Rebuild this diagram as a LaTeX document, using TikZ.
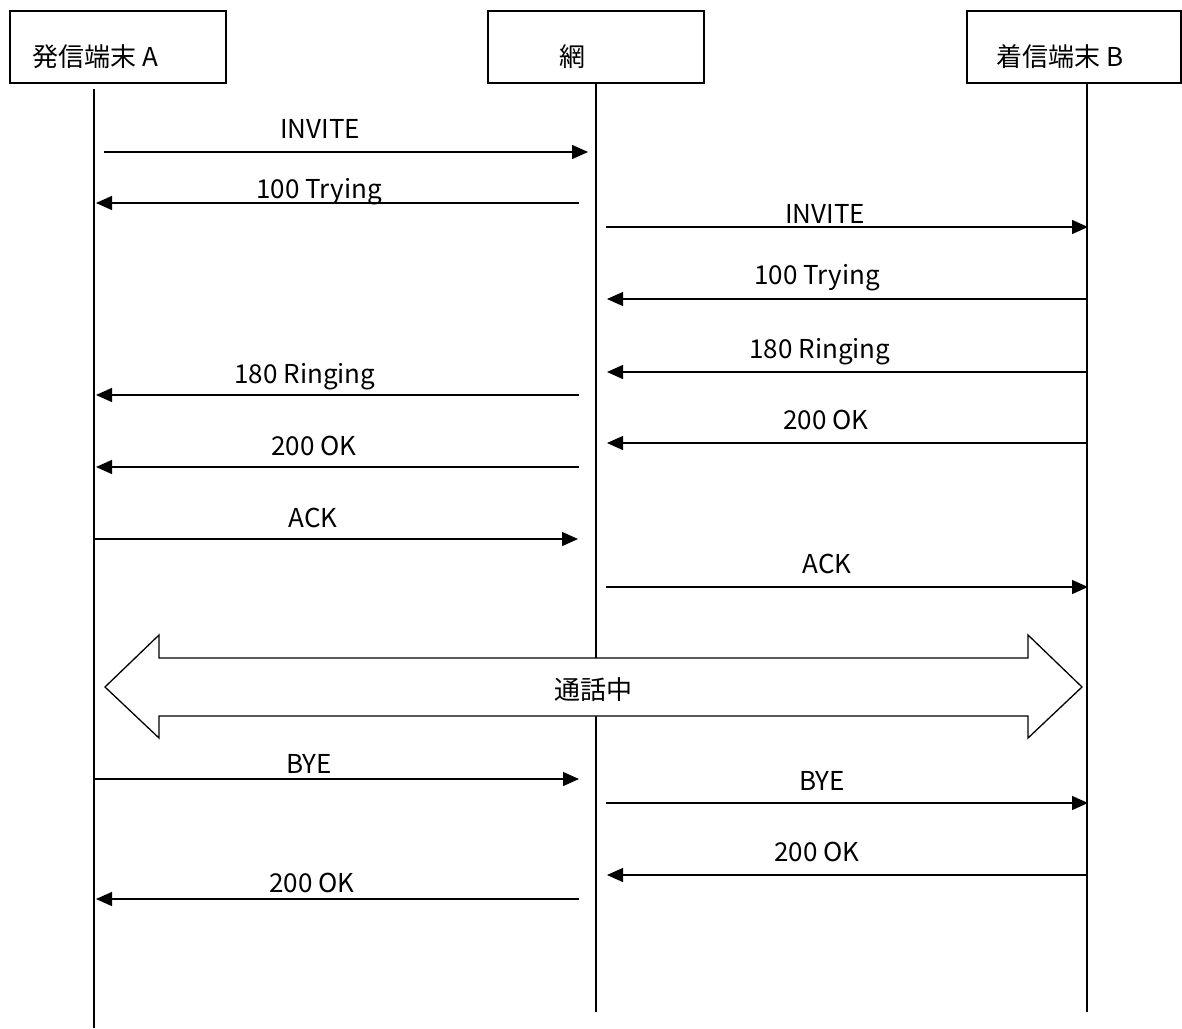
\documentclass[tikz,border=0pt]{standalone}
\usepackage{fontspec}
\setmainfont{Noto Sans CJK JP}
\usetikzlibrary{arrows.meta}

\begin{document}
\begin{tikzpicture}[x=0.5pt, y=-0.5pt, >={Triangle[length=8pt,width=7pt]}, line width=0.65pt,
  font=\fontsize{13}{15}\selectfont,
  box/.style={draw, minimum height=36pt, inner sep=0pt},
  msg/.style={->},
  lbl/.style={anchor=base, inner sep=0pt}]
  \useasboundingbox (0,0) rectangle (1182,1028);
  % participants
  \node[box, minimum width=108pt] (boxA) at (118,47) {};
  \node[box, minimum width=108pt] (boxN) at (596,47) {};
  \node[box, minimum width=107pt] (boxB) at (1074,47) {};
  \node (nameA) at (95,57) {発信端末 A};
  \node (nameN) at (572,57) {網};
  \node (nameB) at (1060,57) {着信端末 B};
  % lifelines
  \coordinate (topA) at (94,89);   \coordinate (endA) at (94,1028);
  \coordinate (topN) at (boxN.south); \coordinate (endN) at (596,1012);
  \coordinate (topB) at (1087,83); \coordinate (endB) at (1087,1012);
  \draw (topA) -- (endA);
  \draw (topN) -- (endN);
  \draw (topB) -- (endB);
  % messages: start x / end x / y / label / label x / label baseline
  \foreach \xs/\xe/\y/\txt/\lx/\ly [count=\i] in {
      104/588/152/INVITE/320/138,
      579/96/203/100 Trying/319/198,
      606/1088/227/INVITE/825/223,
      1088/607/299/100 Trying/817/284,
      1088/607/372/180 Ringing/820/358,
      579/96/395/180 Ringing/305/383,
      1088/607/443/200 OK/826/429,
      579/96/467/200 OK/314/455,
      95/578/539/ACK/313/527,
      606/1088/587/ACK/827/573,
      95/579/779/BYE/309/773,
      606/1088/803/BYE/822/790,
      1088/607/875/200 OK/817/861,
      579/96/899/200 OK/312/892} {
    \coordinate (s\i) at (\xs,\y);
    \coordinate (e\i) at (\xe,\y);
    \draw[msg] (s\i) -- (e\i);
    \node[lbl] (m\i) at (\lx,\ly) {\txt};
  }
  % talking
  \draw[fill=white] (105,687) -- (159,635) -- (159,658) -- (1028,658) -- (1028,635)
    -- (1082,687) -- (1028,738) -- (1028,716) -- (159,716) -- (159,738) -- cycle;
  \node (talk) at (593,690) {通話中};
\end{tikzpicture}
\end{document}
